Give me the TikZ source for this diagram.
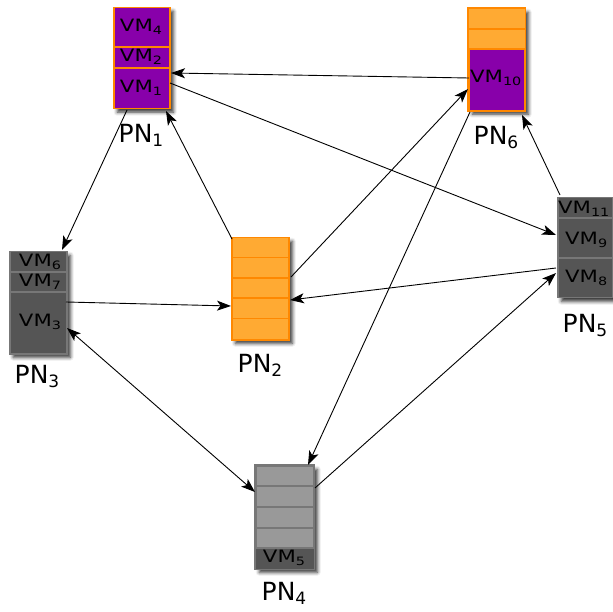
\documentclass[tikz,border=0pt]{standalone}
\usepackage{fontspec}
\setmainfont{DejaVu Sans}
\newfontfamily\vmfont[FakeStretch=1.25]{DejaVu Sans}
\usetikzlibrary{arrows.meta,calc,shadows.blur}

\definecolor{vmpurple}{HTML}{8800AA}
\definecolor{slotorange}{HTML}{FFAA33}
\definecolor{rimorange}{HTML}{FF8800}
\definecolor{hostdark}{HTML}{555555}
\definecolor{rimgray}{HTML}{777777}
\definecolor{hostlight}{HTML}{999999}

% host label with index, e.g. PN_1
\newcommand\pnname[1]{PN\raisebox{-4pt}{\fontsize{17}{17}\selectfont #1}}
% virtual machine label with index, e.g. VM_4
\newcommand\vmname[1]{VM\raisebox{-3pt}{\fontsize{11.5}{11.5}\selectfont #1}}

\begin{document}
\begin{tikzpicture}[x=1pt,y=-1pt,
  host/.style={rectangle, inner sep=0pt, anchor=north west, line width=1.5pt,
    blur shadow={shadow xshift=3.5pt, shadow yshift=-3.5pt, shadow blur radius=3.5pt, shadow opacity=80}},
  rim/.style={line width=1.5pt},
  vm/.style={font=\vmfont\fontsize{17}{17}\selectfont, inner sep=0pt},
  pn/.style={font=\fontsize{25}{25}\selectfont, anchor=base, inner sep=0pt},
  tip/.style={Stealth[length=14pt,width=10pt,inset=3.5pt]},
  link/.style={line width=0.9pt, -{Stealth[length=14pt,width=10pt,inset=3.5pt]}},
  duallink/.style={line width=0.9pt, {Stealth[length=14pt,width=10pt,inset=3.5pt]}-{Stealth[length=14pt,width=10pt,inset=3.5pt]}}]
\useasboundingbox (0,0) rectangle (613,612);

% ---------- PN1: three purple VMs ----------
\node[host, fill=vmpurple, draw=rimorange, minimum width=56pt, minimum height=101pt] (pn1) at (113,7) {};
\draw[rim, rimorange] ($(pn1.north west)+(0,40)$) -- ($(pn1.north east)+(0,40)$);
\draw[rim, rimorange] ($(pn1.north west)+(0,61)$) -- ($(pn1.north east)+(0,61)$);
\node[vm] (vm4) at ($(pn1.north west)+(28,20)$) {\vmname{4}};
\node[vm] (vm2) at ($(pn1.north west)+(28,50)$) {\vmname{2}};
\node[vm] (vm1) at ($(pn1.north west)+(28,81)$) {\vmname{1}};
\node[pn] (pn1lbl) at (141,143) {\pnname{1}};

% ---------- PN6: two free slots and VM10 ----------
\node[host, fill=vmpurple, draw=rimorange, minimum width=56pt, minimum height=102pt] (pn6) at (468,8) {};
\fill[slotorange] (pn6.north west) rectangle ($(pn6.north east)+(0,41)$);
\draw[rim, rimorange] ($(pn6.north west)+(0,21)$) -- ($(pn6.north east)+(0,21)$);
\draw[rim, rimorange] ($(pn6.north west)+(0,41)$) -- ($(pn6.north east)+(0,41)$);
\draw[rim, rimorange] (pn6.north west) rectangle (pn6.south east);
\node[vm, anchor=base west] (vm10) at ($(pn6.north west)+(2,75)$) {\vmname{10}};
\node[pn] (pn6lbl) at (496,145) {\pnname{6}};

% ---------- PN3 ----------
\node[host, fill=hostdark, draw=rimgray, minimum width=57pt, minimum height=102pt] (pn3) at (9,251) {};
\draw[rim, rimgray] ($(pn3.north west)+(0,21)$) -- ($(pn3.north east)+(0,21)$);
\draw[rim, rimgray] ($(pn3.north west)+(0,41)$) -- ($(pn3.north east)+(0,41)$);
\node[vm] (vm6) at ($(pn3.north west)+(31,11)$) {\vmname{6}};
\node[vm] (vm7) at ($(pn3.north west)+(31,31)$) {\vmname{7}};
\node[vm] (vm3) at ($(pn3.north west)+(31,71)$) {\vmname{3}};
\node[pn] (pn3lbl) at (37,383) {\pnname{3}};

% ---------- PN5 ----------
\node[host, fill=hostdark, draw=rimgray, minimum width=55pt, minimum height=100pt] (pn5) at (557,197) {};
\draw[rim, rimgray] ($(pn5.north west)+(0,21)$) -- ($(pn5.north east)+(0,21)$);
\draw[rim, rimgray] ($(pn5.north west)+(0,61)$) -- ($(pn5.north east)+(0,61)$);
\node[vm, anchor=base west] (vm11) at ($(pn5.north west)+(1,17)$) {\vmname{11}};
\node[vm, anchor=base west] (vm9) at ($(pn5.north west)+(8,48)$) {\vmname{9}};
\node[vm, anchor=base west] (vm8) at ($(pn5.north west)+(8,86)$) {\vmname{8}};
\node[pn] (pn5lbl) at (585,333) {\pnname{5}};

% ---------- PN2: five free slots ----------
\node[host, fill=slotorange, draw=rimorange, minimum width=57pt, minimum height=102pt] (pn2) at (231,237) {};
\foreach \k in {1,2,3,4}
  \draw[rim, rimorange] ($(pn2.north west)+(0,20.4*\k)$) -- ($(pn2.north east)+(0,20.4*\k)$);
\node[pn] (pn2lbl) at (260,372) {\pnname{2}};

% ---------- PN4: four free slots and VM5 ----------
\node[host, fill=hostlight, draw=rimgray, minimum width=58pt, minimum height=103pt] (pn4) at (255,465) {};
\fill[hostdark] ($(pn4.north west)+(0,83)$) rectangle (pn4.south east);
\foreach \k in {21,42,63,83}
  \draw[rim, rimgray] ($(pn4.north west)+(0,\k)$) -- ($(pn4.north east)+(0,\k)$);
\draw[rim, rimgray] (pn4.north west) rectangle (pn4.south east);
\node[vm] (vm5) at ($(pn4.north west)+(29,93)$) {\vmname{5}};
\node[pn] (pn4lbl) at (284,600) {\pnname{4}};

% ---------- migrations ----------
\draw[link] ($(pn6.north west)+(1,70)$) -- ($(pn1.north west)+(58,66)$);
\draw[link] ($(pn1.north west)+(14,103)$) -- ($(pn3.north west)+(53,-1)$);
\draw[link] ($(pn2.north west)+(1,2)$) -- ($(pn1.north west)+(53,104)$);
\draw[link] ($(pn1.north west)+(57,76)$) -- ($(pn5.north west)+(-1,38)$);
\draw[link] ($(pn2.north west)+(60,40)$) -- ($(pn6.north west)+(0,81)$);
\draw[link] ($(pn3.north west)+(57,51)$) -- ($(pn2.north west)+(0,69)$);
\draw[link] ($(pn5.north west)+(-1,71)$) -- ($(pn2.north west)+(59,63)$);
\draw[link] ($(pn5.north west)+(3,-2)$) -- ($(pn6.north west)+(54,107)$);
\draw[link] ($(pn6.north west)+(2,104)$) -- ($(pn4.north west)+(53,0)$);
\draw[duallink] ($(pn3.north west)+(58,77)$) -- ($(pn4.north west)+(0,27)$);
\draw[link] ($(pn4.north west)+(60,23)$) -- ($(pn5.north west)+(-1,76)$);
\end{tikzpicture}
\end{document}
